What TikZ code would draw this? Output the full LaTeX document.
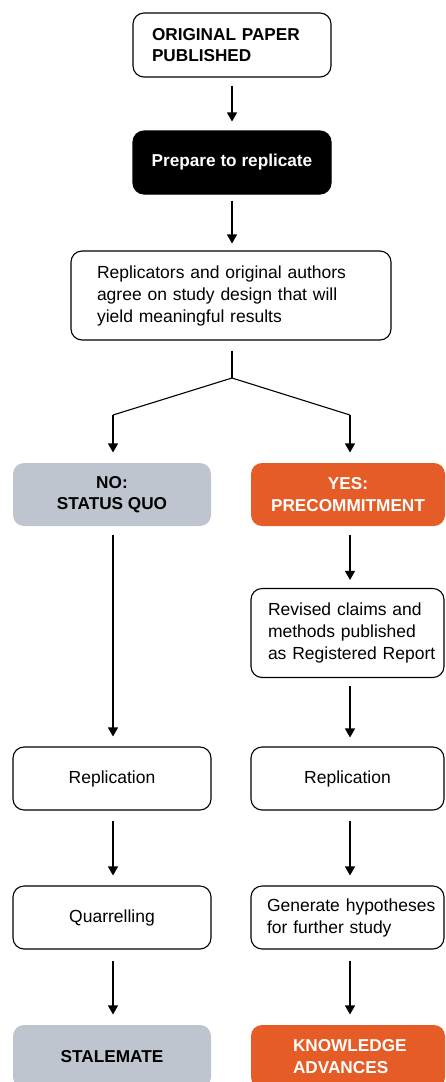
\documentclass[tikz,border=0pt]{standalone}
\usepackage{fontspec}
\setmainfont{Liberation Sans}
\usetikzlibrary{arrows.meta}
\definecolor{qgray}{HTML}{BEC5CE}
\definecolor{qorange}{HTML}{E65C27}
\newcommand\oneline[1]{\mbox{#1}}
\begin{document}
\begin{tikzpicture}[x=1pt,y=-1pt,
  box/.style={draw=black,line width=1.1pt,rounded corners=11pt,fill=white,inner sep=0pt,
    font=\fontsize{17.5}{22}\selectfont},
  hd/.style={font=\fontsize{17.2}{21.5}\selectfont\bfseries},
  conn/.style={line width=1.1pt,draw=black},
  arr/.style={conn,-{Triangle[width=10pt,length=9pt]}}
]
\useasboundingbox (0,0) rectangle (445,1082);
\clip (0,0) rectangle (445,1082);

% top
\node[box,hd,minimum width=198pt,minimum height=64pt,text width=160pt,align=left] (orig) at (232,45) {\oneline{ORIGINAL PAPER}\\\oneline{PUBLISHED}};
\node[box,hd,fill=black,text=white,minimum width=198pt,minimum height=63pt,align=center] (prep) at (232,162.5) {Prepare to replicate};
\node[box,minimum width=320pt,minimum height=89pt,text width=268pt,align=left] (agree) at (231,295.5) {\oneline{Replicators and original authors}\\\oneline{agree on study design that will}\\\oneline{yield meaningful results}};

% branch heads
\node[box,hd,draw=none,fill=qgray,minimum width=198pt,minimum height=63pt,align=center] (no) at (112,494.5) {NO:\\STATUS QUO};
\node[box,hd,draw=none,fill=qorange,text=white,minimum width=194pt,minimum height=63pt,align=center] (yes) at (348,494.5) {YES:\\PRECOMMITMENT};

% right column
\node[box,minimum width=193pt,minimum height=89pt,text width=159pt,align=left] (revised) at (347.5,633) {\oneline{Revised claims and}\\\oneline{methods published}\\\oneline{as Registered Report}};
\node[box,minimum width=193pt,minimum height=63pt,align=center] (repR) at (347.5,778.5) {Replication};
\node[box,minimum width=193pt,minimum height=63pt,text width=161pt,align=left] (gen) at (347.5,917.5) {\oneline{Generate hypotheses}\\\oneline{for further study}};
\node[box,hd,draw=none,fill=qorange,text=white,minimum width=194pt,minimum height=63pt,text width=110pt,align=left] (know) at (348,1056.5) {\oneline{KNOWLEDGE}\\\oneline{ADVANCES}};

% left column
\node[box,minimum width=198pt,minimum height=63pt,align=center] (repL) at (112,778.5) {Replication};
\node[box,minimum width=198pt,minimum height=63pt,align=center] (quar) at (112,917.5) {Quarrelling};
\node[box,hd,draw=none,fill=qgray,minimum width=198pt,minimum height=63pt,align=center] (stale) at (112,1056.5) {STALEMATE};

% connectors
\draw[arr,shorten <=8pt,shorten >=9pt] (orig.south) -- (prep.north);
\draw[arr,shorten <=6pt,shorten >=7pt] (prep.south) -- (agree.north -| prep.south);
\coordinate (split) at (232,378);
\coordinate (sl) at (113,415);
\coordinate (sr) at (350,415);
\draw[conn,shorten <=10pt] (agree.south -| split) -- (split);
\draw[conn] (sl) -- (split) -- (sr);
\draw[arr,shorten >=10pt] (sl) -- (sl |- no.north);
\draw[arr,shorten >=10pt] (sr) -- (sr |- yes.north);

\draw[arr,shorten <=8pt,shorten >=10pt] (no.south -| sl) -- (repL.north -| sl);
\draw[arr,shorten <=8pt,shorten >=8pt] (yes.south -| sr) -- (revised.north -| sr);
\draw[arr,shorten <=8pt,shorten >=9pt] (revised.south -| sr) -- (repR.north -| sr);
\draw[arr,shorten <=10pt,shorten >=10pt] (repL.south -| sl) -- (quar.north -| sl);
\draw[arr,shorten <=10pt,shorten >=10pt] (repR.south -| sr) -- (gen.north -| sr);
\draw[arr,shorten <=11pt,shorten >=10pt] (quar.south -| sl) -- (stale.north -| sl);
\draw[arr,shorten <=11pt,shorten >=10pt] (gen.south -| sr) -- (know.north -| sr);
\end{tikzpicture}
\end{document}
